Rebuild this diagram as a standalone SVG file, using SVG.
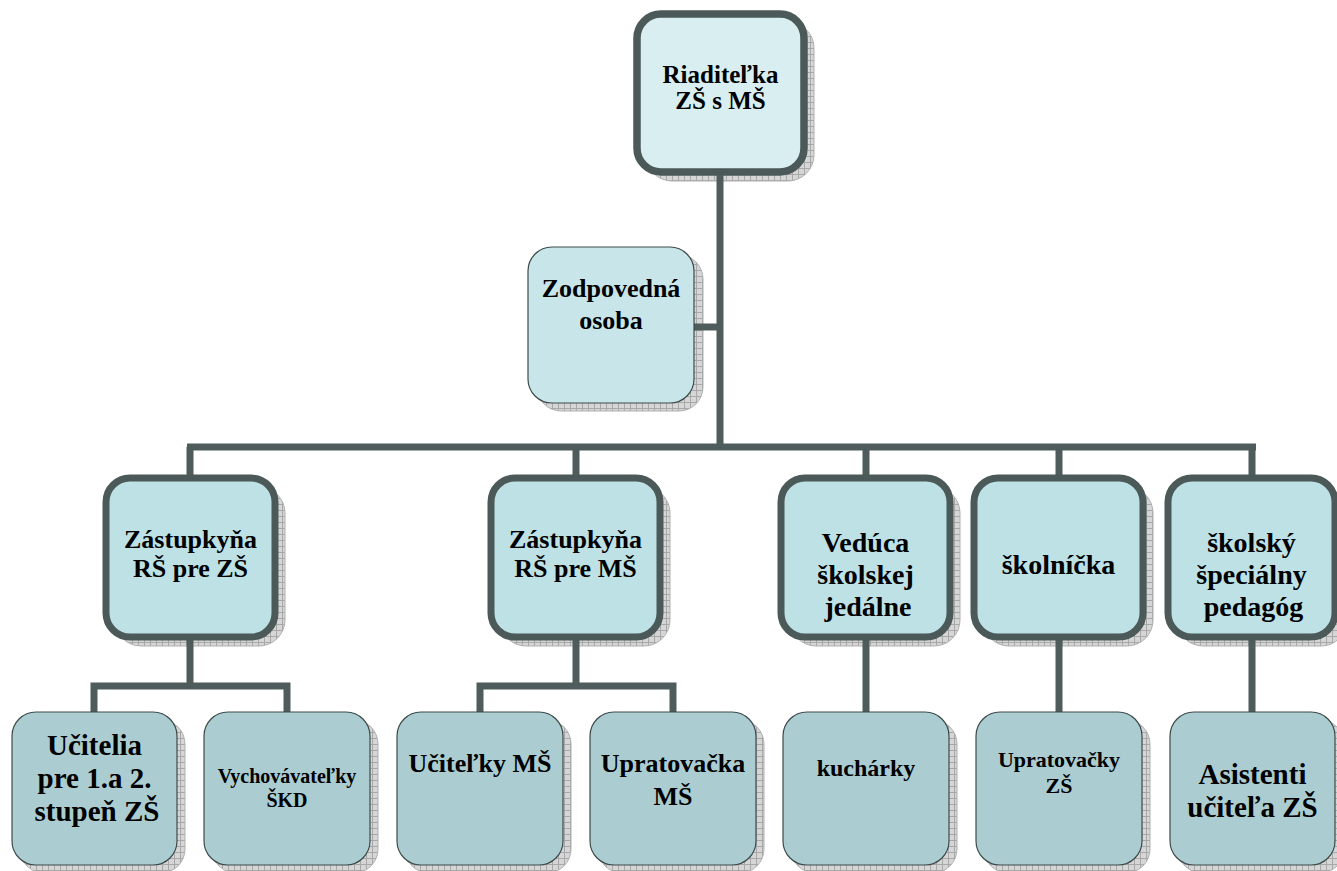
<svg xmlns="http://www.w3.org/2000/svg" width="1337" height="871" viewBox="0 0 1337 871" font-family="'Liberation Serif', 'DejaVu Serif', serif">
<defs>
<pattern id="grid" width="6" height="6" patternUnits="userSpaceOnUse">
<rect width="6" height="6" fill="#d6d6d6"/>
<path d="M0 0.5H6M0.5 0V6" stroke="#a8a8a8" stroke-width="1"/>
</pattern>
<style>
.sh{fill:url(#grid);stroke:#b0b0b0;stroke-width:1}
.top{fill:#d9eef1;stroke:#4b5959;stroke-width:7.5}
.l2{fill:#bde1e5;stroke:#4b5959;stroke-width:7}
.zo{fill:#c8e6ea;stroke:#3e4a4a;stroke-width:1.2}
.l3{fill:#abcdd1;stroke:#3e4a4a;stroke-width:1.2}
.c{fill:none;stroke:#4e5c5c;stroke-width:7;stroke-linejoin:miter;stroke-linecap:butt}
.t{font-weight:bold;fill:#000;text-anchor:middle}
</style>
</defs>
<rect width="1337" height="871" fill="#fff"/>
<g id="shadows">
<rect class="sh" x="646" y="22" width="168" height="159" rx="26"/>
<rect class="sh" x="537" y="255" width="166" height="156" rx="24"/>
<rect class="sh" x="115" y="487" width="170" height="159" rx="26"/>
<rect class="sh" x="500" y="487" width="170" height="159" rx="26"/>
<rect class="sh" x="790" y="487" width="170" height="159" rx="26"/>
<rect class="sh" x="983" y="487" width="170" height="159" rx="26"/>
<rect class="sh" x="1177" y="487" width="170" height="159" rx="26"/>
<rect class="sh" x="20" y="720" width="165" height="153" rx="24"/>
<rect class="sh" x="212" y="720" width="166" height="153" rx="24"/>
<rect class="sh" x="405" y="720" width="166" height="153" rx="24"/>
<rect class="sh" x="598" y="720" width="166" height="153" rx="24"/>
<rect class="sh" x="791" y="720" width="166" height="153" rx="24"/>
<rect class="sh" x="984" y="720" width="166" height="153" rx="24"/>
<rect class="sh" x="1178" y="720" width="166" height="153" rx="24"/>
</g>
<g id="connectors">
<path class="c" d="M720 172V447"/>
<path class="c" d="M694 327H720"/>
<path class="c" d="M187 447H1256"/>
<path class="c" d="M190 447V478M576 447V478M866 447V478M1059 447V478M1252 447V478"/>
<path class="c" d="M190 637V686M94 712V686H287V712"/>
<path class="c" d="M576 637V686M480 712V686H673V712"/>
<path class="c" d="M866 637V712M1059 637V712M1252 637V712"/>
</g>
<g id="n-riaditelka">
<rect class="top" x="637" y="14" width="167" height="158" rx="24"/>
<text class="t" x="720.5" y="83" font-size="25">Riaditeľka</text>
<text class="t" x="720.5" y="109" font-size="25">ZŠ s MŠ</text>
</g>
<g id="n-zodpovedna">
<rect class="zo" x="528" y="247" width="166" height="156" rx="24"/>
<text class="t" x="611" y="297" font-size="26">Zodpovedná</text>
<text class="t" x="611" y="329" font-size="26">osoba</text>
</g>
<g id="n-zastupkyna-zs">
<rect class="l2" x="106" y="478" width="169" height="159" rx="24"/>
<text class="t" x="190.5" y="548" font-size="26">Zástupkyňa</text>
<text class="t" x="190.5" y="577" font-size="26">RŠ pre ZŠ</text>
</g>
<g id="n-zastupkyna-ms">
<rect class="l2" x="491" y="478" width="169" height="159" rx="24"/>
<text class="t" x="575.5" y="548" font-size="26">Zástupkyňa</text>
<text class="t" x="575.5" y="577" font-size="26">RŠ pre MŠ</text>
</g>
<g id="n-veduca">
<rect class="l2" x="781" y="478" width="169" height="159" rx="24"/>
<text class="t" x="865.5" y="552" font-size="28">Vedúca</text>
<text class="t" x="865.5" y="584" font-size="28">školskej</text>
<text class="t" x="868" y="616" font-size="28">jedálne</text>
</g>
<g id="n-skolnicka">
<rect class="l2" x="974" y="478" width="169" height="159" rx="24"/>
<text class="t" x="1058.5" y="574" font-size="28">školníčka</text>
</g>
<g id="n-specialny-pedagog">
<rect class="l2" x="1168" y="478" width="167" height="159" rx="24"/>
<text class="t" x="1251.5" y="552" font-size="28">školský</text>
<text class="t" x="1251.5" y="584" font-size="28">špeciálny</text>
<text class="t" x="1253.5" y="616" font-size="28">pedagóg</text>
</g>
<g id="n-ucitelia">
<rect class="l3" x="12" y="712" width="165" height="153" rx="24"/>
<text class="t" x="94.5" y="755" font-size="29">Učitelia</text>
<text class="t" x="94.5" y="788" font-size="29">pre 1.a 2.</text>
<text class="t" x="97" y="821" font-size="29">stupeň ZŠ</text>
</g>
<g id="n-vychovavatelky">
<rect class="l3" x="204" y="712" width="166" height="153" rx="24"/>
<text class="t" x="287" y="783" font-size="20">Vychovávateľky</text>
<text class="t" x="287" y="807" font-size="20">ŠKD</text>
</g>
<g id="n-ucitelky-ms">
<rect class="l3" x="397" y="712" width="166" height="153" rx="24"/>
<text class="t" x="480" y="772" font-size="26">Učiteľky MŠ</text>
</g>
<g id="n-upratovacka-ms">
<rect class="l3" x="590" y="712" width="166" height="153" rx="24"/>
<text class="t" x="673" y="772" font-size="26">Upratovačka</text>
<text class="t" x="673" y="805" font-size="26">MŠ</text>
</g>
<g id="n-kucharky">
<rect class="l3" x="783" y="712" width="166" height="153" rx="24"/>
<text class="t" x="866" y="776" font-size="24">kuchárky</text>
</g>
<g id="n-upratovacky-zs">
<rect class="l3" x="976" y="712" width="166" height="153" rx="24"/>
<text class="t" x="1059" y="767" font-size="22">Upratovačky</text>
<text class="t" x="1059" y="793" font-size="22">ZŠ</text>
</g>
<g id="n-asistenti">
<rect class="l3" x="1170" y="712" width="165" height="153" rx="24"/>
<text class="t" x="1252.5" y="784" font-size="29">Asistenti</text>
<text class="t" x="1252.5" y="817" font-size="29">učiteľa ZŠ</text>
</g>
</svg>
